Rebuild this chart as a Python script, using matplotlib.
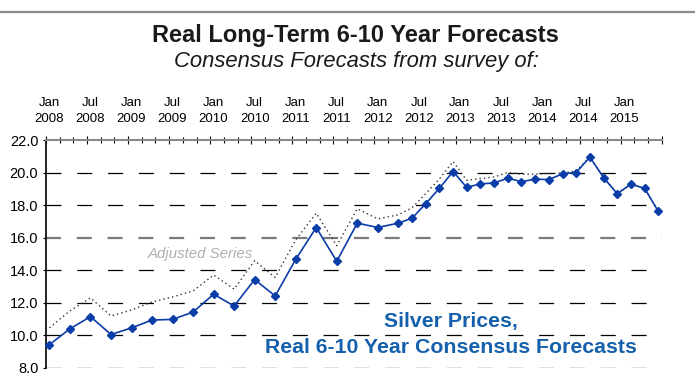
import matplotlib
matplotlib.use("Agg")
import matplotlib.pyplot as plt
from matplotlib.lines import Line2D
from matplotlib.ticker import FixedLocator
import numpy as np

plt.rcParams['font.family'] = ['Liberation Sans', 'DejaVu Sans']
plt.rcParams['lines.scale_dashes'] = False

# Survey dates (quarterly to Apr 2012, bi-monthly afterwards)
survey_dates = [
    "2008-01", "2008-04", "2008-07", "2008-10",
    "2009-01", "2009-04", "2009-07", "2009-10",
    "2010-01", "2010-04", "2010-07", "2010-10",
    "2011-01", "2011-04", "2011-07", "2011-10",
    "2012-01", "2012-04", "2012-06", "2012-08", "2012-10", "2012-12",
    "2013-02", "2013-04", "2013-06", "2013-08", "2013-10", "2013-12",
    "2014-02", "2014-04", "2014-06", "2014-08", "2014-10", "2014-12",
    "2015-02", "2015-04", "2015-06",
]

# Real 6-10 year consensus forecasts for silver (US$/oz)
consensus = [
    9.42, 10.39, 11.14, 10.04,
    10.45, 10.93, 10.97, 11.42,
    12.52, 11.79, 13.42, 12.41,
    14.66, 16.62, 14.54, 16.89,
    16.62, 16.89, 17.19, 18.08, 19.03, 20.06,
    19.09, 19.30, 19.36, 19.65, 19.44, 19.59,
    19.57, 19.92, 20.00, 20.95, 19.69, 18.70,
    19.28, 19.03, 17.61,
]

# Adjusted series (dotted)
adjusted = [
    10.45, 11.50, 12.29, 11.18,
    11.55, 12.04, 12.35, 12.72,
    13.70, 12.83, 14.58, 13.55,
    15.86, 17.50, 15.50, 17.77,
    17.15, 17.40, 17.83, 18.70, 19.60, 20.68,
    19.52, 19.63, 19.73, 20.00, 19.90, 19.90,
    19.94, 19.96, 20.10, 20.95, 19.69, 18.70,
    19.28, 19.03, 17.61,
]

label_dates = [
    "2008-01", "2008-07", "2009-01", "2009-07", "2010-01", "2010-07",
    "2011-01", "2011-07", "2012-01", "2012-07", "2013-01", "2013-07",
    "2014-01", "2014-07", "2015-01",
]
axis_labels = [
    "Jan\n2008", "Jul\n2008", "Jan\n2009", "Jul\n2009", "Jan\n2010",
    "Jul\n2010", "Jan\n2011", "Jul\n2011", "Jan\n2012", "Jul\n2012",
    "Jan\n2013", "Jul\n2013", "Jan\n2014", "Jul\n2014", "Jan\n2015",
]
y_ticks = [8, 10, 12, 14, 16, 18, 20, 22]


def month_index(d):
    y, m = d.split("-")
    return (int(y) - 2008) * 12 + int(m) - 1


x = [month_index(d) for d in survey_dates]
label_x = [month_index(d) for d in label_dates]

W, H = 695, 385
fig = plt.figure(figsize=(W / 100, H / 100), dpi=100)
ax = fig.add_axes([46 / W, (H - 367.7) / H, 615.7 / W, 227.7 / H])
ax.set_xlim(-0.5, 89.5)
ax.set_ylim(8, 22)

# frame line across the top of the figure
fig.add_artist(Line2D([0, 1], [1 - 12 / H] * 2, transform=fig.transFigure,
                      color="#8c8c8c", lw=1.6))

for side in ("bottom", "right"):
    ax.spines[side].set_visible(False)
ax.spines["left"].set_color("black")
ax.spines["left"].set_linewidth(1.2)
ax.spines["top"].set_color("#8a8a8a")
ax.spines["top"].set_linewidth(1.5)

# top time axis: long ticks every 6 months, short ticks every 2 months
ax.xaxis.set_ticks_position("top")
ax.xaxis.set_major_locator(FixedLocator(np.arange(-0.5, 90, 6)))
ax.xaxis.set_minor_locator(FixedLocator(np.arange(-0.5, 90, 2)))
ax.tick_params(axis="x", which="major", direction="inout", length=5.8,
               width=0.8, color="black", labeltop=False, labelbottom=False)
ax.tick_params(axis="x", which="minor", direction="inout", length=3.8,
               width=0.8, color="black")

sec = ax.secondary_xaxis("top")
sec.set_xticks(label_x, labels=axis_labels)
sec.tick_params(length=0, pad=10.5, labelsize=9.5)
sec.spines["top"].set_visible(False)
for lab in sec.get_xticklabels():
    lab.set_linespacing(1.45)

ax.set_yticks(y_ticks)
ax.set_yticklabels([f"{v:.1f}" for v in y_ticks])
ax.tick_params(axis="y", direction="out", length=2.5, width=0.8,
               pad=3, labelsize=10.5)

# dashed horizontal grid
for v in y_ticks[:-1]:
    if v == 16:
        ax.axhline(v, color="#7a7a7a", lw=1.6, dashes=(10.8, 11.37), zorder=1)
    else:
        ax.axhline(v, color="black", lw=0.9, dashes=(10.8, 11.37), zorder=1)

ax.plot(x, adjusted, color="#333333", lw=1.0, ls=(0, (1, 2.2)), zorder=3)
ax.plot(x, consensus, color="#0b3da8", lw=1.2, marker="D", ms=4.4,
        zorder=4, clip_on=False)

ax.text(22.0, 15.0, "Adjusted Series", fontsize=10.8, style="italic",
        color="#b0b0b0", ha="center", va="center")
ax.text(58.7, 10.48, "Silver Prices,", fontsize=15.3, weight="bold",
        color="#1560ac", ha="center", va="baseline")
ax.text(58.7, 8.88, "Real 6-10 Year Consensus Forecasts", fontsize=15.3,
        weight="bold", color="#1560ac", ha="center", va="baseline")

fig.text(355 / W, 1 - 42 / H, "Real Long-Term 6-10 Year Forecasts",
         fontsize=17, weight="bold", color="#1a1a1a", ha="center",
         va="baseline")
fig.text(356.5 / W, 1 - 67 / H, "Consensus Forecasts from survey of:",
         fontsize=15.8, style="italic", color="#1a1a1a", ha="center",
         va="baseline")

fig.savefig("out.png", dpi=100)
